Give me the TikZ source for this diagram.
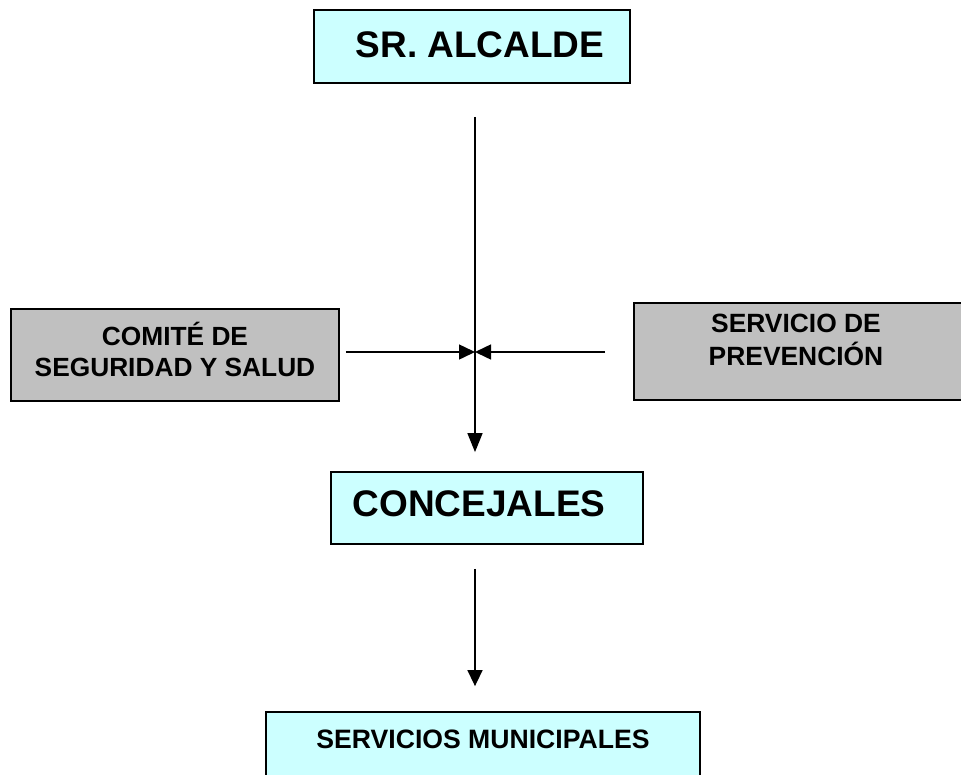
\documentclass[tikz,border=0pt]{standalone}
\usepackage{fontspec}
\setmainfont{Liberation Sans}
\usetikzlibrary{arrows.meta}
\definecolor{boxcyan}{HTML}{CCFFFF}
\definecolor{boxgray}{HTML}{C0C0C0}
\begin{document}
\begin{tikzpicture}[x=1pt,y=-1pt,
  cyanbox/.style={draw=black, line width=1.8pt, fill=boxcyan, rectangle, inner sep=0pt, font=\bfseries},
  graybox/.style={draw=black, line width=1.8pt, fill=boxgray, rectangle, inner sep=0pt, font=\bfseries},
  conn/.style={line width=1.5pt, -{Triangle[length=16pt,width=15pt]}}
]
\useasboundingbox (0,0) rectangle (961,774);
\node[cyanbox, minimum width=316pt, minimum height=73pt, text height=21pt, text depth=0pt,
  font=\bfseries\fontsize{37}{40}\selectfont] (alc) at (472,46.5) {\hspace*{16pt}SR. ALCALDE};
\node[cyanbox, minimum width=312pt, minimum height=72pt, text height=16pt, text depth=0pt,
  font=\bfseries\fontsize{37}{40}\selectfont] (conc) at (487,508) {CONCEJALES\hspace*{16pt}};
\node[cyanbox, minimum width=434pt, minimum height=88pt, text height=0pt, text depth=16pt,
  font=\bfseries\fontsize{26.6}{30}\selectfont] (serv) at (483,756) {SERVICIOS MUNICIPALES};
\node[graybox, minimum width=328pt, minimum height=92pt,
  font=\bfseries\fontsize{26.3}{31}\selectfont] (com) at (175,355)
  {\raisebox{-21pt}[0pt][0pt]{\begin{tabular}[b]{@{}c@{}}COMITÉ DE\\SEGURIDAD Y SALUD\end{tabular}}};
\node[graybox, minimum width=336pt, minimum height=97pt,
  font=\bfseries\fontsize{26.4}{32}\selectfont] (prev) at (802,351.5)
  {\hspace*{-12pt}\raisebox{-13.5pt}[0pt][0pt]{\begin{tabular}[b]{@{}c@{}}SERVICIO DE\\PREVENCIÓN\end{tabular}}};
\coordinate (xline) at (475,0);
\coordinate (junc) at (475,352);
\draw[line width=1.5pt, -{Triangle[length=19pt,width=15pt]}, shorten <=33pt, shorten >=19pt]
  (alc.south -| xline) -- (conc.north -| xline);
\draw[conn, shorten <=6pt] (com.east |- junc) -- (junc);
\draw[conn, shorten <=28pt] (prev.west |- junc) -- (junc);
\draw[conn, shorten <=24pt, shorten >=25pt] (conc.south -| xline) -- (serv.north -| xline);
\end{tikzpicture}
\end{document}
